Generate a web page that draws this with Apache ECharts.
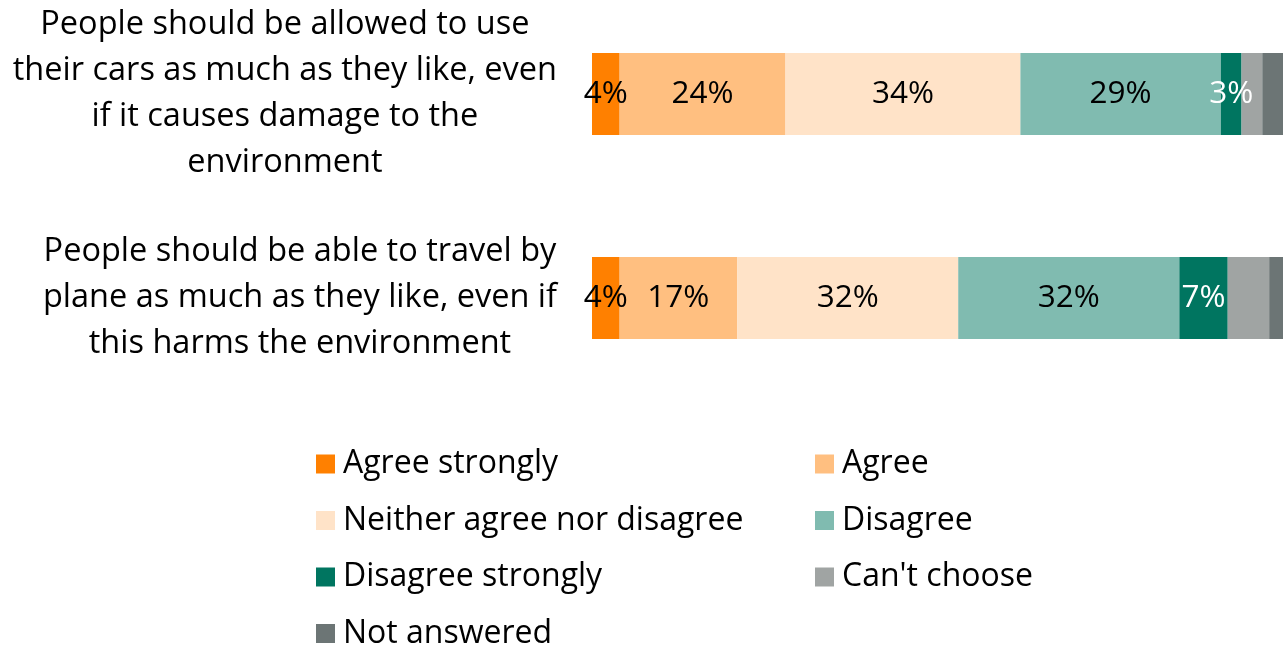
<!DOCTYPE html>
<html>
<head>
<meta charset="utf-8">
<script src="https://cdn.jsdelivr.net/npm/echarts@6/dist/echarts.min.js"></script>
<style>
  html, body { margin: 0; padding: 0; background: #ffffff; overflow: hidden; }
  #chart { position: absolute; left: 0; top: -8px; width: 1287px; height: 656px; }
</style>
</head>
<body>
<div id="chart"></div>
<script>
// Survey statements (line breaks as they wrap on the axis)
const statements = [
  'People should be allowed to use\ntheir cars as much as they like, even\nif it causes damage to the\nenvironment',
  'People should be able to travel by\nplane as much as they like, even if\nthis harms the environment'
];

// Response categories and their colours
const responses = ['Agree strongly', 'Agree', 'Neither agree nor disagree', 'Disagree',
                   'Disagree strongly', "Can't choose", 'Not answered'];
const colours = ['#FF8000', '#FFBF80', '#FFE3C8', '#80BBB0', '#007560', '#A0A4A3', '#6C7575'];

// Percentages per response, one value per statement
const agreeStrongly = [4, 4];
const agree = [24, 17];
const neither = [34, 32];
const disagree = [29, 32];
const disagreeStrongly = [3, 7];
const cantChoose = [3, 6];
const notAnswered = [3, 2];

const seriesValues = [agreeStrongly, agree, neither, disagree, disagreeStrongly, cantChoose, notAnswered];
const labelled = [true, true, true, true, true, false, false];
const labelColours = ['#000', '#000', '#000', '#000', '#fff', '#000', '#000'];

const FONT = '"Open Sans", "Noto Sans", sans-serif';

const chart = echarts.init(document.getElementById('chart'), null, { renderer: 'canvas' });

const series = responses.map((name, i) => ({
  name: name,
  type: 'bar',
  stack: 'total',
  barWidth: 82,
  data: seriesValues[i],
  itemStyle: { color: colours[i] },
  label: {
    show: labelled[i],
    position: 'inside',
    formatter: '{c}%',
    color: labelColours[i],
    fontFamily: FONT,
    fontSize: 31.5
  },
  emphasis: { disabled: true }
}));

const legendText = { fontFamily: FONT, fontSize: 32, color: '#000', lineHeight: 32, padding: [0, 0, 0, 3] };
const leftCol = [responses[0], responses[2], responses[4], responses[6]];
const rightCol = [responses[1], responses[3], responses[5]];

const legendBase = {
  orient: 'vertical', top: 451, height: 260,
  itemWidth: 19, itemHeight: 19, itemGap: 24.5, icon: 'rect',
  textStyle: legendText, selectedMode: false
};

chart.setOption({
  animation: false,
  grid: { left: 592, right: 4, top: 0, height: 408, containLabel: false },
  xAxis: { type: 'value', min: 0, max: 100, show: false },
  yAxis: {
    type: 'category',
    inverse: true,
    data: statements,
    axisLine: { show: false },
    axisTick: { show: false },
    axisLabel: {
      margin: 35,
      formatter: function (v) {
        return v.split('\n').map(s => '{c|' + s + '}').join('\n');
      },
      rich: {
        c: { align: 'center', fontFamily: FONT, fontSize: 32.5, lineHeight: 46, color: '#000' }
      }
    }
  },
  legend: [
    Object.assign({ data: leftCol, left: 311 }, legendBase),
    Object.assign({ data: rightCol, left: 810 }, legendBase)
  ],
  series: series
});
</script>
</body>
</html>
